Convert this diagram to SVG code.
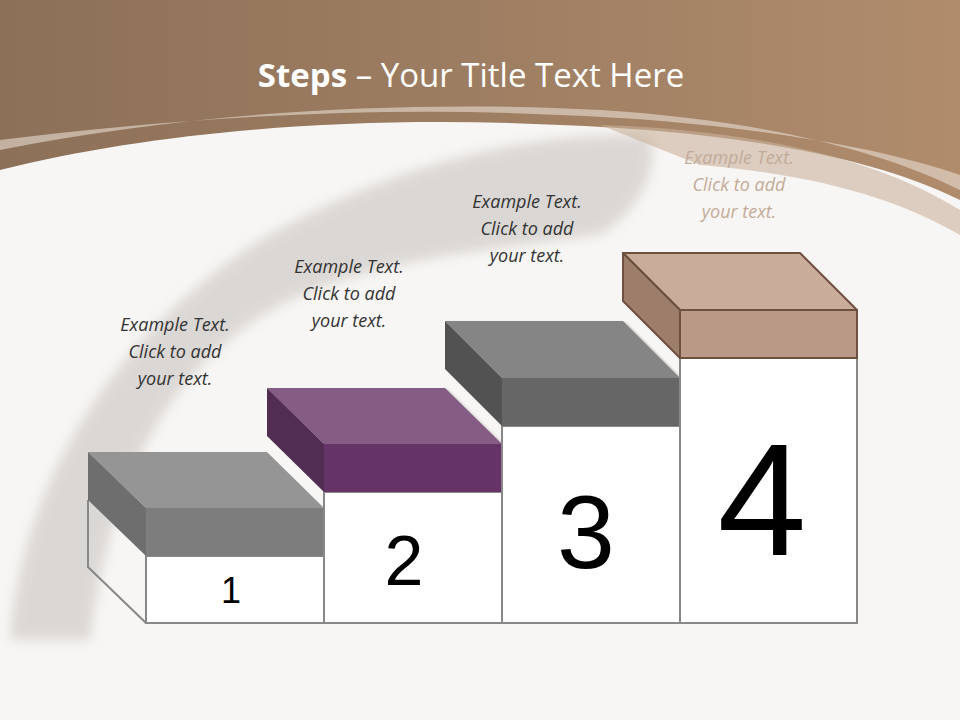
<svg xmlns="http://www.w3.org/2000/svg" width="960" height="720" viewBox="0 0 960 720">
<defs>
<linearGradient id="hdr" x1="0" y1="0" x2="1" y2="0"><stop offset="0" stop-color="#8c7058"/><stop offset="1" stop-color="#b08c6c"/></linearGradient>
<filter id="sh"><feDropShadow dx="2" dy="2" stdDeviation="1.5" flood-opacity="0.35"/></filter>
<filter id="blur"><feGaussianBlur stdDeviation="6"/></filter>
</defs>
<style>
.lbl{font-family:"Open Sans","Liberation Sans",sans-serif;font-style:italic;font-size:18px;fill:#333;text-anchor:middle}
.num{font-family:"Liberation Sans",Arial,sans-serif;fill:#000;text-anchor:middle}
.col{fill:#fff;stroke:#888;stroke-width:2}
.edge{stroke:#888;stroke-width:2;fill:none}
</style>
<rect width="960" height="720" fill="#f8f6f4"/>
<path d="M10,640 C20,480 120,330 260,240 C380,170 520,130 650,135 C660,170 640,210 600,235 C480,250 380,260 290,300 C170,360 110,480 90,640 Z" fill="#c9c4c1" opacity="0.6" filter="url(#blur)"/>
<path d="M0,0 H960 V200 C860,150 700,130 560,125 C360,115 160,130 0,170 Z" fill="url(#hdr)"/>
<path d="M0,150 C200,110 420,100 600,110 C760,120 880,150 960,190 V175 C860,140 700,120 560,115 C360,105 160,120 0,140 Z" fill="#e8ddd4" opacity="0.6"/>
<path d="M600,125 C760,130 880,160 960,210 V235 C900,200 820,175 700,165 Z" fill="#c9b29c" opacity="0.6"/>
<text x="471" y="87" font-family="'Open Sans','Liberation Sans',sans-serif" font-size="33" fill="#fff" text-anchor="middle"><tspan font-weight="bold">Steps</tspan> – Your Title Text Here</text>

<g id="step1">
<path class="edge" d="M88,500 V567 L146,623"/>
<rect class="col" x="146" y="556" width="178" height="67"/>
<polygon points="88,452 267,452 324,508 146,508" fill="#959595"/>
<polygon points="88,452 146,508 146,556 88,500" fill="#6e6e6e"/>
<rect x="146" y="508" width="178" height="48" fill="#7d7d7d"/>
<text class="num" x="231" y="603" font-size="36">1</text>
<text class="lbl" x="175" y="331">Example Text.</text><text class="lbl" x="175" y="358">Click  to add</text><text class="lbl" x="175" y="385">your text.</text>
</g>
<g id="step2">
<rect class="col" x="324" y="492" width="178" height="131"/>
<polygon points="267,388 445,388 502,444 324,444" fill="#845b84" filter="url(#sh)"/>
<polygon points="267,388 324,444 324,492 267,436" fill="#512d51"/>
<rect x="324" y="444" width="178" height="48" fill="#663366"/>
<text class="num" x="404" y="585" font-size="70">2</text>
<text class="lbl" x="349" y="273">Example Text.</text><text class="lbl" x="349" y="300">Click  to add</text><text class="lbl" x="349" y="327">your text.</text>
</g>
<g id="step3">
<rect class="col" x="502" y="426" width="178" height="197"/>
<polygon points="445,321 623,321 680,378 502,378" fill="#858585" filter="url(#sh)"/>
<polygon points="445,321 502,378 502,426 445,369" fill="#525252"/>
<rect x="502" y="378" width="178" height="48" fill="#666"/>
<text class="num" x="586" y="568" font-size="104">3</text>
<text class="lbl" x="527" y="208">Example Text.</text><text class="lbl" x="527" y="235">Click  to add</text><text class="lbl" x="527" y="262">your text.</text>
</g>
<g id="step4">
<rect class="col" x="680" y="358" width="177" height="265"/>
<polygon points="623,253 800,253 857,310 680,310" fill="#c9ad9a" stroke="#6e5040" stroke-width="2" stroke-linejoin="round"/>
<polygon points="623,253 680,310 680,358 623,301" fill="#9c7e6b" stroke="#6e5040" stroke-width="2" stroke-linejoin="round"/>
<rect x="680" y="310" width="177" height="48" fill="#b89a86" stroke="#6e5040" stroke-width="2"/>
<text class="num" x="762" y="555" font-size="160">4</text>
<text class="lbl" x="739" y="164" style="fill:#c3ab98">Example Text.</text><text class="lbl" x="739" y="191" style="fill:#c3ab98">Click  to add</text><text class="lbl" x="739" y="218" style="fill:#c3ab98">your text.</text>
</g>
<g id="connectors"/>
</svg>
